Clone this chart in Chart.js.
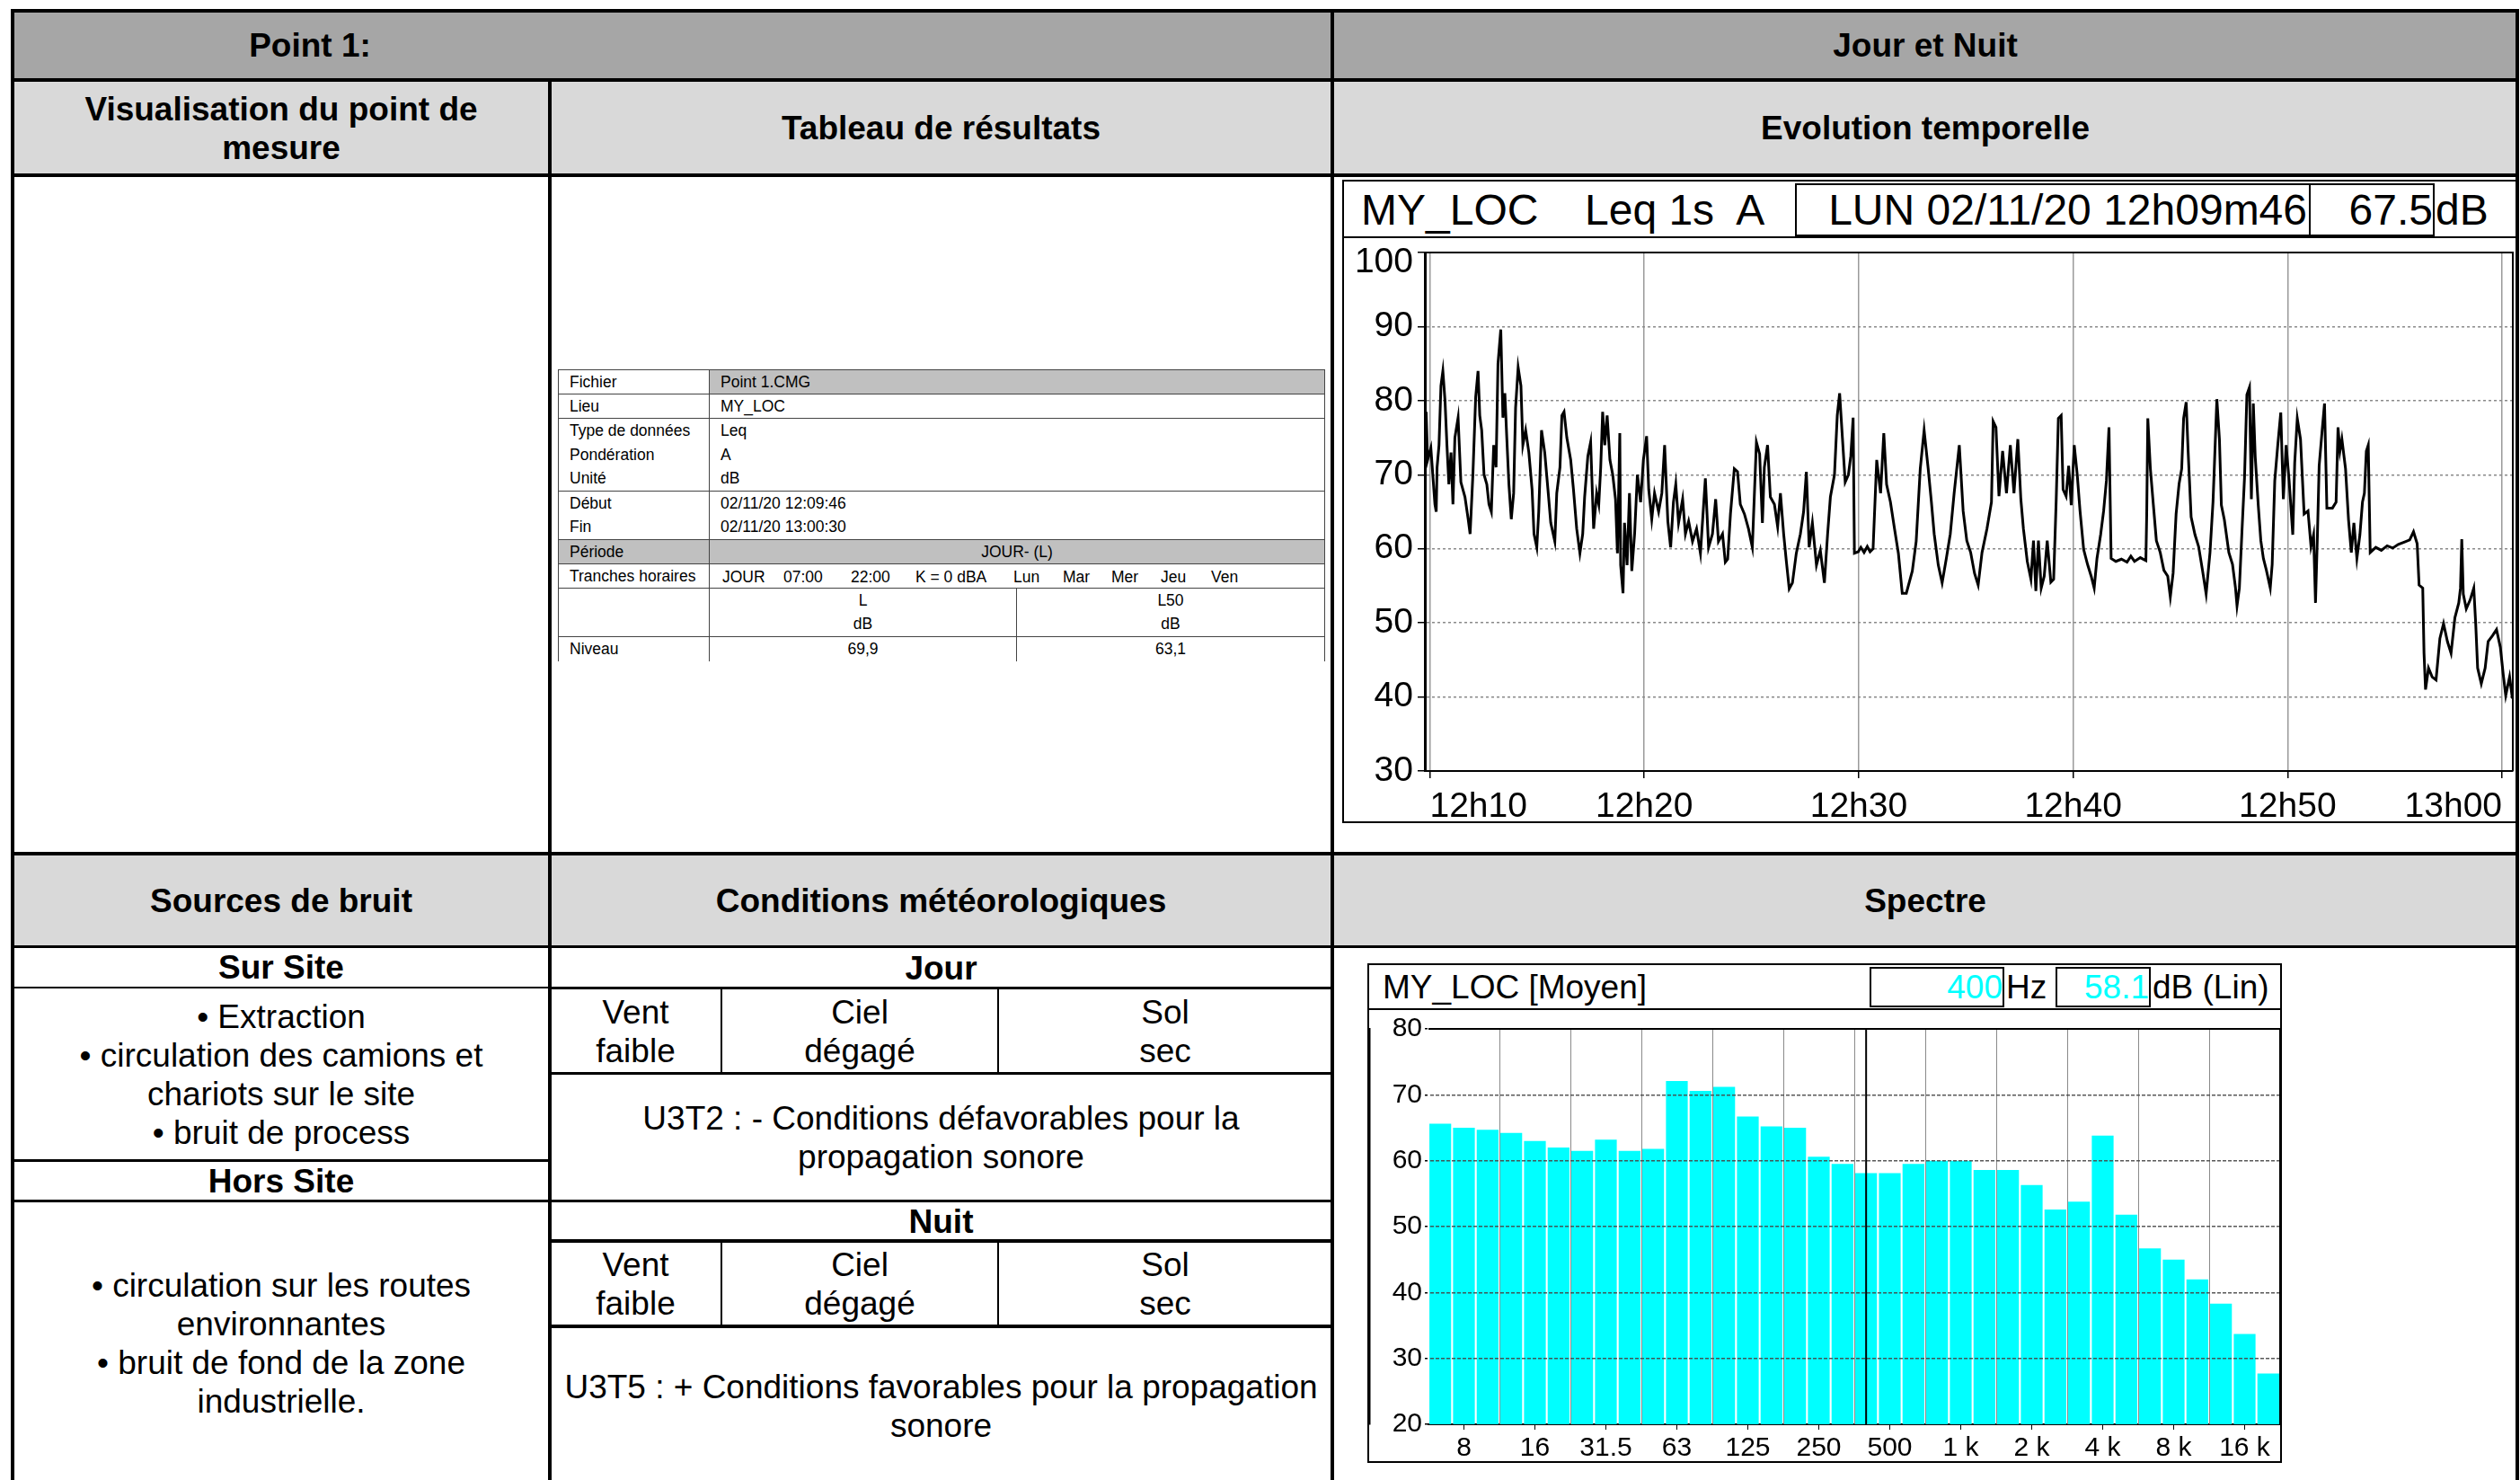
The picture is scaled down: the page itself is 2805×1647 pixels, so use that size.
<!DOCTYPE html>
<html lang="fr">
<head>
<meta charset="utf-8">
<title>Point 1 - Jour et Nuit</title>
<script src="https://cdn.jsdelivr.net/npm/chart.js"></script>
<style>
  body { margin: 0; background: #fff; }
  #page { position: relative; width: 2805px; height: 1647px; overflow: hidden;
          font-family: "Liberation Sans", Arial, sans-serif; color: #000; }
  .bg, .ln, .tx, .box, canvas, .frame { position: absolute; }
  .ln { background: #000; }
  .tx { text-align: center; font-size: 37px; line-height: 43px; white-space: nowrap; }
  .b { font-weight: bold; }
  .cc { display: flex; align-items: center; justify-content: center; }
  .frame { border: 2px solid #000; box-sizing: border-box; }
  .box { border: 2px solid #000; box-sizing: border-box; text-align: right; white-space: pre; }
  .hd { position: absolute; white-space: pre; }
  .cyan { color: #00ffff; }

  #res { position: absolute; left: 621px; top: 411px; width: 853px; border-collapse: collapse;
         table-layout: fixed; font-size: 17.5px; }
  #res td { height: 27px; box-sizing: border-box; padding: 0 0 0 12px; border-left: 1px solid #444;
            border-right: 1px solid #444; white-space: nowrap; vertical-align: middle; }
  #res tr.bb td { border-bottom: 1px solid #444; }
  #res tr.bt td { border-top: 1px solid #444; }
  #res td.g { background: #c0c0c0; }
  #res td.c { text-align: center; padding: 0; }
  #res td.rel { position: relative; }
  #res td.rel span { position: absolute; top: 4px; }
</style>
</head>
<body>
<div id="page">
  <!-- fonds des bandeaux -->
  <div class="bg" style="left:14px;top:12px;width:2788px;height:77px;background:#a6a6a6"></div>
  <div class="bg" style="left:14px;top:89px;width:2788px;height:106px;background:#d9d9d9"></div>
  <div class="bg" style="left:14px;top:950px;width:2788px;height:104px;background:#d9d9d9"></div>

  <!-- cadre principal -->
  <div class="ln" style="left:12px;top:10px;width:2792px;height:4px"></div>
  <div class="ln" style="left:12px;top:10px;width:4px;height:1637px"></div>
  <div class="ln" style="left:2800px;top:10px;width:4px;height:1637px"></div>
  <div class="ln" style="left:12px;top:87px;width:2792px;height:4px"></div>
  <div class="ln" style="left:12px;top:193px;width:2792px;height:4px"></div>
  <div class="ln" style="left:12px;top:948px;width:2792px;height:4px"></div>
  <div class="ln" style="left:12px;top:1052px;width:2792px;height:3px"></div>
  <div class="ln" style="left:610px;top:87px;width:4px;height:1560px"></div>
  <div class="ln" style="left:1481px;top:10px;width:4px;height:1637px"></div>

  <!-- sources de bruit -->
  <div class="ln" style="left:14px;top:1098px;width:598px;height:2px"></div>
  <div class="ln" style="left:14px;top:1290px;width:598px;height:3px"></div>
  <div class="ln" style="left:14px;top:1335px;width:598px;height:3px"></div>

  <!-- conditions météo -->
  <div class="ln" style="left:612px;top:1098px;width:871px;height:3px"></div>
  <div class="ln" style="left:612px;top:1193px;width:871px;height:3px"></div>
  <div class="ln" style="left:612px;top:1335px;width:871px;height:3px"></div>
  <div class="ln" style="left:612px;top:1379px;width:871px;height:4px"></div>
  <div class="ln" style="left:612px;top:1474px;width:871px;height:4px"></div>
  <div class="ln" style="left:802px;top:1100px;width:2px;height:95px"></div>
  <div class="ln" style="left:1110px;top:1100px;width:2px;height:95px"></div>
  <div class="ln" style="left:802px;top:1381px;width:2px;height:95px"></div>
  <div class="ln" style="left:1110px;top:1381px;width:2px;height:95px"></div>

  <!-- titres -->
  <div class="tx b cc" style="left:14px;top:12px;width:662px;height:77px">Point 1:</div>
  <div class="tx b cc" style="left:1483px;top:12px;width:1320px;height:77px">Jour et Nuit</div>
  <div class="tx b" style="left:14px;top:100px;width:598px">Visualisation du point de<br>mesure</div>
  <div class="tx b cc" style="left:612px;top:89px;width:871px;height:106px">Tableau de résultats</div>
  <div class="tx b cc" style="left:1483px;top:89px;width:1320px;height:106px">Evolution temporelle</div>
  <div class="tx b cc" style="left:14px;top:950px;width:598px;height:104px">Sources de bruit</div>
  <div class="tx b cc" style="left:612px;top:950px;width:871px;height:104px">Conditions météorologiques</div>
  <div class="tx b cc" style="left:1483px;top:950px;width:1320px;height:104px">Spectre</div>

  <div class="tx b cc" style="left:14px;top:1054px;width:598px;height:45px">Sur Site</div>
  <div class="tx" style="left:14px;top:1110px;width:598px">• Extraction<br>• circulation des camions et<br>chariots sur le site<br>• bruit de process</div>
  <div class="tx b cc" style="left:14px;top:1293px;width:598px;height:43px">Hors Site</div>
  <div class="tx" style="left:14px;top:1409px;width:598px">• circulation sur les routes<br>environnantes<br>• bruit de fond de la zone<br>industrielle.</div>

  <div class="tx b cc" style="left:612px;top:1055px;width:871px;height:44px">Jour</div>
  <div class="tx" style="left:612px;top:1105px;width:191px">Vent<br>faible</div>
  <div class="tx" style="left:803px;top:1105px;width:308px">Ciel<br>dégagé</div>
  <div class="tx" style="left:1111px;top:1105px;width:372px">Sol<br>sec</div>
  <div class="tx" style="left:612px;top:1223px;width:871px">U3T2 : - Conditions défavorables pour la<br>propagation sonore</div>
  <div class="tx b cc" style="left:612px;top:1338px;width:871px;height:42px">Nuit</div>
  <div class="tx" style="left:612px;top:1386px;width:191px">Vent<br>faible</div>
  <div class="tx" style="left:803px;top:1386px;width:308px">Ciel<br>dégagé</div>
  <div class="tx" style="left:1111px;top:1386px;width:372px">Sol<br>sec</div>
  <div class="tx" style="left:612px;top:1522px;width:871px">U3T5 : + Conditions favorables pour la propagation<br>sonore</div>

  <!-- tableau de résultats -->
  <table id="res">
    <colgroup><col style="width:168px"><col style="width:342px"><col style="width:343px"></colgroup>
    <tr class="bt bb"><td>Fichier</td><td colspan="2" class="g">Point 1.CMG</td></tr>
    <tr class="bb"><td>Lieu</td><td colspan="2">MY_LOC</td></tr>
    <tr><td>Type de données</td><td colspan="2">Leq</td></tr>
    <tr><td>Pondération</td><td colspan="2">A</td></tr>
    <tr class="bb"><td>Unité</td><td colspan="2">dB</td></tr>
    <tr><td>Début</td><td colspan="2">02/11/20 12:09:46</td></tr>
    <tr class="bb"><td>Fin</td><td colspan="2">02/11/20 13:00:30</td></tr>
    <tr class="bb"><td class="g">Période</td><td colspan="2" class="g c">JOUR- (L)</td></tr>
    <tr class="bb"><td>Tranches horaires</td><td colspan="2" class="rel">
      <span style="left:14px">JOUR</span><span style="left:82px">07:00</span><span style="left:157px">22:00</span>
      <span style="left:229px">K = 0 dBA</span><span style="left:338px">Lun</span><span style="left:393px">Mar</span>
      <span style="left:447px">Mer</span><span style="left:502px">Jeu</span><span style="left:558px">Ven</span></td></tr>
    <tr><td></td><td class="c">L</td><td class="c">L50</td></tr>
    <tr class="bb"><td></td><td class="c">dB</td><td class="c">dB</td></tr>
    <tr><td>Niveau</td><td class="c">69,9</td><td class="c">63,1</td></tr>
  </table>

  <!-- évolution temporelle -->
  <div class="frame" style="left:1494px;top:200px;width:1308px;height:716px"></div>
  <div class="ln" style="left:1494px;top:263px;width:1308px;height:2px"></div>
  <div class="hd" style="left:1515px;top:204px;font-size:48px;line-height:59px">MY_LOC</div>
  <div class="hd" style="left:1764px;top:204px;font-size:48px;line-height:59px">Leq 1s  A</div>
  <div class="box" style="left:1998px;top:204px;width:574px;height:59px;font-size:48px;line-height:55px;padding-right:2px">LUN 02/11/20 12h09m46</div>
  <div class="box" id="curLevel" style="left:2570px;top:204px;width:140px;height:59px;font-size:48px;line-height:55px"></div>
  <div class="hd" style="left:2711px;top:204px;font-size:48px;line-height:59px">dB</div>
  <canvas id="timeChart" width="1304" height="664" style="left:1496px;top:250px"></canvas>

  <!-- spectre -->
  <div class="frame" style="left:1522px;top:1072px;width:1018px;height:556px"></div>
  <div class="ln" style="left:1522px;top:1122px;width:1018px;height:2px"></div>
  <div class="hd" style="left:1539px;top:1076px;font-size:37px;line-height:45px">MY_LOC [Moyen]</div>
  <div class="box cyan" id="curBand" style="left:2081px;top:1076px;width:150px;height:45px;font-size:37px;line-height:41px"></div>
  <div class="hd" style="left:2233px;top:1076px;font-size:37px;line-height:45px">Hz</div>
  <div class="box cyan" id="curBandDb" style="left:2288px;top:1076px;width:106px;height:45px;font-size:37px;line-height:41px"></div>
  <div class="hd" style="left:2396px;top:1076px;font-size:37px;line-height:45px">dB (Lin)</div>
  <canvas id="specChart" width="1014" height="502" style="left:1524px;top:1124px"></canvas>
</div>

<script>
// évolution temporelle : minutes après 12h10, niveau Leq 1s (dB)
const timeMin = [
  -0.23, -0.17, -0.1, 0.05, 0.24, 0.3, 0.34, 0.43, 0.52, 0.61, 0.71, 0.8, 0.89, 0.99, 1.08, 1.17, 1.32, 1.45, 1.64, 1.79,
  1.88, 2.01, 2.14, 2.25, 2.33, 2.42, 2.53, 2.66, 2.76, 2.87, 2.98, 3.09, 3.18, 3.31, 3.41, 3.5, 3.59, 3.69, 3.8, 3.91,
  4.0, 4.12, 4.25, 4.34, 4.47, 4.62, 4.77, 4.86, 4.99, 5.08, 5.21, 5.36, 5.51, 5.64, 5.83, 5.92, 6.07, 6.16, 6.26, 6.39,
  6.57, 6.7, 6.85, 7.0, 7.13, 7.22, 7.37, 7.5, 7.64, 7.78, 7.88, 7.97, 8.06, 8.16, 8.27, 8.4, 8.53, 8.66, 8.75, 8.86,
  8.9, 9.01, 9.08, 9.2, 9.31, 9.42, 9.55, 9.68, 9.83, 9.96, 10.11, 10.21, 10.35, 10.48, 10.67, 10.82, 10.95, 11.1, 11.23, 11.36,
  11.47, 11.6, 11.79, 11.92, 12.07, 12.25, 12.44, 12.62, 12.85, 13.0, 13.18, 13.33, 13.46, 13.65, 13.78, 13.89, 14.02, 14.2, 14.35, 14.48,
  14.67, 14.86, 15.04, 15.23, 15.38, 15.51, 15.6, 15.75, 15.88, 16.07, 16.22, 16.35, 16.5, 16.63, 16.76, 16.91, 17.09, 17.28, 17.43, 17.56,
  17.69, 17.84, 18.03, 18.21, 18.4, 18.55, 18.68, 18.87, 19.0, 19.11, 19.24, 19.37, 19.52, 19.63, 19.74, 19.8, 19.98, 20.1, 20.25, 20.4,
  20.53, 20.67, 20.84, 21.02, 21.17, 21.3, 21.48, 21.67, 21.85, 22.03, 22.22, 22.5, 22.68, 22.87, 23.05, 23.24, 23.39, 23.52, 23.71, 23.89,
  24.08, 24.27, 24.45, 24.69,
  24.87, 25.04, 25.22, 25.4, 25.57, 25.75, 25.98, 26.19, 26.27, 26.4, 26.54, 26.71, 26.89, 27.07, 27.24, 27.42, 27.56, 27.68, 27.86, 28.03,
  28.15, 28.26, 28.38, 28.51, 28.65, 28.79, 28.96, 29.09, 29.21, 29.31, 29.44, 29.53, 29.67, 29.79, 29.91, 30.05, 30.19, 30.32, 30.49, 30.67,
  30.84, 30.98, 31.11, 31.28, 31.42, 31.55, 31.67, 31.77, 31.99, 32.25, 32.51, 32.69, 32.86, 33.13, 33.39, 33.43, 33.48, 33.6, 33.74, 33.88,
  34.06, 34.23, 34.41, 34.53, 34.66, 34.8, 34.94, 35.06, 35.15, 35.27, 35.36, 35.5, 35.68, 35.85, 36.03, 36.2, 36.38, 36.52, 36.59, 36.7,
  36.82, 36.91, 37.05, 37.26, 37.43, 37.57, 37.64, 37.75, 37.87, 37.99, 38.1, 38.22, 38.31, 38.4, 38.49, 38.63, 38.75, 38.87, 39.01, 39.19,
  39.28, 39.4, 39.54, 39.68, 39.8, 39.93, 40.07, 40.24, 40.33, 40.45, 40.6, 40.77, 40.95, 41.09, 41.21, 41.3, 41.39, 41.47, 41.61, 41.72,
  41.83, 42.09, 42.26, 42.35, 42.44, 42.53, 42.7, 42.84, 42.97, 43.09, 43.23, 43.37, 43.49, 43.58, 43.67, 43.76, 43.85, 44.11, 44.37, 44.64,
  44.9, 45.16, 45.43, 45.69, 45.87, 46.04, 46.13, 46.3, 46.36, 46.43, 46.57, 46.74, 46.92, 47.1, 47.27, 47.45, 47.62, 47.8, 47.98, 48.06,
  48.12, 48.19, 48.33, 48.51, 48.68, 48.77, 48.86, 49.03, 49.21, 49.35, 49.56, 49.74, 49.92, 50.05, 50.17, 50.35, 50.48
];
const levelDb = [
  67.5, 78.5, 72, 73.6, 66, 65, 71, 74, 82, 84, 80, 74, 68.7, 73, 66, 75, 77.7, 69, 67, 64,
  62, 70, 80.5, 84, 78, 76, 70, 68.7, 66, 65, 74, 71, 85, 89.6, 77.7, 81, 75, 68.7, 64, 67.5,
  79, 84.5, 82, 74, 76, 73, 68, 62, 60.2, 65, 76, 73, 68, 63.5, 61, 67.5, 71, 78, 78.5, 75,
  72, 68, 62.7, 59.4, 62, 67, 72.5, 74.4, 62.7, 67.5, 66, 71, 78.5, 74, 78, 72, 70, 66.7, 59.4, 75.6,
  57.8, 54, 63.5, 57.8, 67.5, 57, 62, 70, 66.3, 72, 75.2, 68, 64, 67.5, 65, 67.5, 74, 63.7, 60.2, 66.3,
  68.7, 63.5, 66.7, 62, 63.7, 61, 62.7, 59.4, 69.5, 60.2, 62, 66.7, 61, 62, 58.2, 58.6, 64.7, 70.8, 70.4, 66,
  64.7, 62.7, 60.2, 74.4, 72.8, 63.5, 71, 74, 67, 66, 63, 67.5, 62, 58.2, 54.6, 55.4, 59.4, 62, 65, 70.4,
  60.2, 63.5, 57.8, 59.8, 55.4, 62, 67, 70, 78, 81, 75, 69, 70, 72.5, 77.7, 59.4, 59.6, 60.2, 59.5, 60.3,
  59.6, 60, 72, 67.5, 75.6, 68.7, 66.3, 62.7, 59.4, 54, 54, 57, 61, 70.8, 76, 70.8, 66.3, 62, 57.8, 55.4,
  58.6, 62, 67.5, 74,
  65.1, 61.1, 59.5, 56.7, 55.1, 59.5, 62.7, 66.3, 77.2, 76.4, 67.1, 73.2, 67.5, 74, 67.5, 74.8, 66.7, 62.7, 58.3, 55.9,
  61.1, 54.3, 61.1, 54.7, 56.3, 61.1, 55.5, 55.9, 66.7, 77.6, 78, 68, 67.1, 71.2, 65.9, 74, 70, 65.1, 59.9, 57.9,
  56.3, 54.7, 58.7, 61.9, 65.1, 69.2, 76.4, 58.7, 58.3, 58.6, 58.2, 59, 58.3, 58.8, 58.4, 64.7, 77.6, 70.8, 65.9, 61.1,
  59.5, 57.1, 56.3, 53.5, 56.7, 64.7, 68.8, 70.8, 77.6, 79.8, 73.2, 64.3, 61.9, 60.3, 57.1, 53.9, 59.5, 66.3, 71.6, 80.2,
  74.8, 65.9, 63.9, 59.5, 57.9, 54.7, 52.3, 54.7, 62.3, 69.6, 80.8, 81.8, 66.7, 79.6, 72.4, 65.9, 61.1, 58.7, 57.1, 54.7,
  57.9, 69.2, 74, 78.4, 66.7, 74, 69.2, 61.9, 71.6, 77.6, 74.8, 64.7, 65.1, 60.3, 61.9, 52.7, 61.9, 71.2, 76, 79.6,
  65.5, 65.5, 66.3, 76.4, 73.2, 74.8, 70.8, 63.9, 59.5, 63.5, 58.7, 61.9, 66.3, 67.5, 73.2, 74, 59.5, 60.2, 59.8, 60.4,
  60.1, 60.6, 60.9, 61.2, 62.3, 60.7, 55.1, 54.7, 45.9, 41, 43.9, 42.7, 42.3, 47.9, 49.9, 47.5, 45.9, 50.7, 52.7, 54.7,
  61.3, 53.9, 51.9, 53.1, 54.7, 49.9, 43.9, 41.8, 43.9, 47.5, 48.3, 49.1, 46.7, 43.1, 40.2, 42.7, 39.8
];
const timeEnd = 50.5; // 13h00m30
const timeTicks = [0, 10, 20, 30, 40, 50];
const timeLabels = ['12h10', '12h20', '12h30', '12h40', '12h50', '13h00'];

// spectre 1/3 d'octave moyen (dB Lin)
const bandLabels = ['6.3', '8', '10', '12.5', '16', '20', '25', '31.5', '40', '50', '63', '80', '100', '125', '160', '200',
  '250', '315', '400', '500', '630', '800', '1 k', '1.25 k', '1.6 k', '2 k', '2.5 k', '3.15 k', '4 k', '5 k', '6.3 k', '8 k',
  '10 k', '12.5 k', '16 k', '20 k'];
const bandDb = [65.6, 65.0, 64.7, 64.2, 63.0, 62.0, 61.5, 63.2, 61.5, 61.8, 72.1, 70.6, 71.2, 66.7, 65.2, 65.0,
  60.6, 59.5, 58.1, 58.1, 59.5, 60.0, 60.0, 58.6, 58.6, 56.3, 52.6, 53.8, 63.8, 51.8, 46.7, 45.0,
  42.0, 38.3, 33.7, 27.7];
const shownBands = ['8', '16', '31.5', '63', '125', '250', '500', '1 k', '2 k', '4 k', '8 k', '16 k'];
const cursorBand = '400';

Chart.defaults.font.family = '"Liberation Sans", Arial, sans-serif';
Chart.defaults.color = '#000';

// valeurs affichées dans les bandeaux
document.getElementById('curLevel').textContent = levelDb[0].toFixed(1);
document.getElementById('curBand').textContent = cursorBand;
document.getElementById('curBandDb').textContent = bandDb[bandLabels.indexOf(cursorBand)].toFixed(1);

// bord haut + droit de la zone de tracé
const plotFrame = {
  id: 'plotFrame',
  afterDraw(chart) {
    const { ctx, chartArea: a } = chart;
    ctx.save();
    ctx.strokeStyle = '#000';
    ctx.lineWidth = 2;
    ctx.beginPath();
    ctx.moveTo(a.left, a.top);
    ctx.lineTo(a.right, a.top);
    ctx.lineTo(a.right, a.bottom);
    ctx.stroke();
    ctx.restore();
  }
};

// curseur vertical sur la bande sélectionnée
const cursorLine = {
  id: 'cursorLine',
  afterDraw(chart) {
    const { ctx, chartArea: a } = chart;
    const x = chart.scales.x.getPixelForValue(bandLabels.indexOf(cursorBand));
    ctx.save();
    ctx.strokeStyle = '#000';
    ctx.lineWidth = 2;
    ctx.beginPath();
    ctx.moveTo(x, a.top);
    ctx.lineTo(x, a.bottom);
    ctx.stroke();
    ctx.restore();
  }
};

new Chart(document.getElementById('timeChart'), {
  type: 'line',
  data: {
    datasets: [{
      data: timeMin.map((t, i) => ({ x: t, y: levelDb[i] })),
      borderColor: '#000',
      borderWidth: 3,
      pointRadius: 0,
      tension: 0,
      fill: false
    }]
  },
  options: {
    responsive: false,
    animation: false,
    events: [],
    layout: { padding: { top: 31, right: 3, left: 0, bottom: 0 } },
    plugins: { legend: { display: false }, tooltip: { enabled: false } },
    scales: {
      x: {
        type: 'linear',
        min: timeMin[0],
        max: timeEnd,
        afterBuildTicks: axis => { axis.ticks = timeTicks.map(v => ({ value: v })); },
        afterFit: scale => { scale.height = 56; },
        ticks: { callback: (v, i) => timeLabels[i], align: 'inner', maxRotation: 0, autoSkip: false, padding: 9, font: { size: 39 } },
        grid: { color: '#9a9a9a', lineWidth: 1.5, tickColor: '#000', tickLength: 8 },
        border: { color: '#000', width: 2 }
      },
      y: {
        min: 30,
        max: 100,
        afterFit: scale => { scale.width = 90; },
        ticks: {
          stepSize: 10, padding: 5,
          // le libellé du haut est décalé vers le bas comme sur l'original
          callback: v => v === 100 ? ['', '100'] : String(v),
          font: c => (c.tick && c.tick.value === 100) ? { size: 39, lineHeight: 0.56 } : { size: 39 }
        },
        grid: {
          color: c => (c.tick.value > 30 && c.tick.value < 100) ? '#8a8a8a' : 'transparent',
          lineWidth: 1.5, tickColor: '#000', tickLength: 8
        },
        border: { color: '#000', width: 3, dash: [3, 3] }
      }
    }
  },
  plugins: [plotFrame]
});

new Chart(document.getElementById('specChart'), {
  type: 'bar',
  data: {
    labels: bandLabels,
    datasets: [{
      data: bandDb,
      backgroundColor: '#00ffff',
      borderWidth: 0,
      barPercentage: 0.92,
      categoryPercentage: 1
    }]
  },
  options: {
    responsive: false,
    animation: false,
    events: [],
    layout: { padding: { top: 8, right: 0, left: 0, bottom: 0 } },
    plugins: { legend: { display: false }, tooltip: { enabled: false } },
    scales: {
      x: {
        afterFit: scale => { scale.height = 41; },
        ticks: {
          autoSkip: false, maxRotation: 0, padding: 3, font: { size: 30 },
          callback: (v, i) => shownBands.includes(bandLabels[i]) ? bandLabels[i] : ''
        },
        grid: {
          offset: false, drawOnChartArea: false, tickLength: 6,
          tickColor: c => shownBands.includes(bandLabels[c.index]) ? '#000' : 'transparent'
        },
        border: { color: '#000', width: 2 }
      },
      x2: {
        type: 'category',
        position: 'top',
        offset: true,
        afterFit: scale => { scale.height = 0; },
        ticks: { display: false },
        grid: {
          offset: true, drawTicks: false, z: 1,
          color: c => (c.index > 0 && c.index % 3 === 0) ? '#8a8a8a' : 'transparent'
        },
        border: { display: false }
      },
      y: {
        min: 20,
        max: 80,
        afterFit: scale => { scale.width = 66; },
        ticks: { stepSize: 10, padding: 3, font: { size: 30 } },
        grid: {
          z: 1,
          color: c => (c.tick.value > 20 && c.tick.value < 80) ? 'rgba(70,70,70,0.9)' : 'transparent',
          lineWidth: 1.5, tickLength: 4, tickColor: '#000'
        },
        border: { color: '#000', width: 3, dash: [4, 2] }
      }
    }
  },
  plugins: [plotFrame, cursorLine]
});
</script>
</body>
</html>
